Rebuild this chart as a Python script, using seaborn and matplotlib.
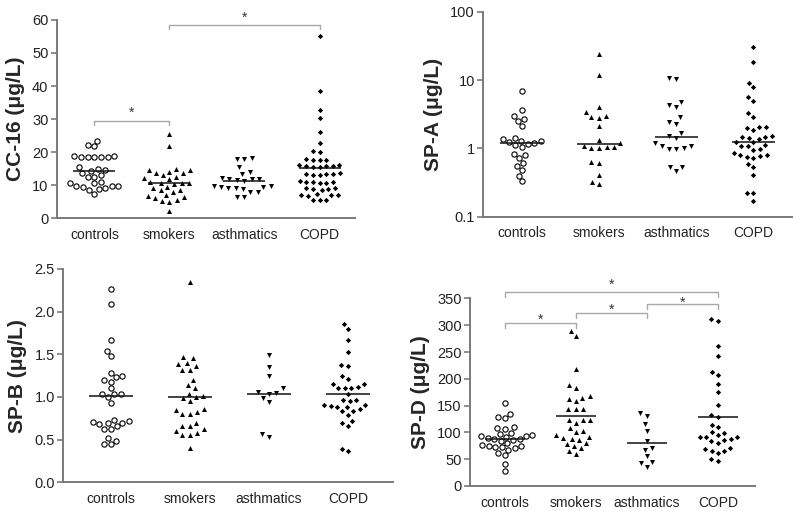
import numpy as np
import pandas as pd
import matplotlib
matplotlib.use("Agg")
import matplotlib.pyplot as plt
import seaborn as sns

# ---------------- data ----------------
groups = ["controls", "smokers", "asthmatics", "COPD"]

cc16_controls = [23.5, 22.2, 21.7, 18.9, 18.6, 18.5, 18.5, 18.5, 18.6, 18.9, 15.4, 14.9, 14.6,
                 14.3, 13.8, 13.2, 12.6, 12.6, 10.9, 10.6, 10.6, 9.8, 9.8, 9.6, 9.4, 8.9, 9.0, 8.5, 7.4]
cc16_smokers = [25.5, 21.9, 14.8, 14.6, 14.5, 14.0, 13.6, 13.6, 13.0, 12.4, 12.1, 11.8, 11.0, 10.8,
                10.8, 10.6, 10.2, 9.4, 9.0, 8.6, 8.4, 8.0, 7.0, 6.8, 6.4, 6.0, 5.6, 5.2, 5.0, 2.3]
cc16_asthmatics = [18.0, 18.1, 17.9, 15.4, 13.9, 13.5, 12.1, 12.0, 11.9, 11.6, 11.4, 11.8, 9.6, 9.3,
                   9.0, 8.9, 9.2, 9.4, 9.6, 7.9, 7.8, 6.5, 6.3]
cc16_copd = [55.0, 38.5, 32.7, 30.2, 26.1, 22.8, 20.3, 19.9, 17.8, 17.6, 17.7, 17.5, 16.2, 15.9,
             15.7, 15.5, 15.8, 16.0, 15.6, 13.6, 13.2, 13.4, 13.0, 13.5, 13.3, 11.2, 11.0, 10.8,
             10.6, 11.1, 10.9, 9.0, 8.7, 8.9, 9.2, 8.6, 7.2, 6.9, 7.0, 7.1, 6.8, 5.6, 5.4, 5.5]

spa_controls = [6.8, 3.7, 3.0, 2.7, 2.5, 2.1, 1.40, 1.35, 1.30, 1.28, 1.22, 1.20, 1.15, 1.12, 1.05,
                0.82, 0.80, 0.73, 0.61, 0.55, 0.48, 0.40, 0.33]
spa_smokers = [23.9, 11.9, 4.1, 3.35, 3.0, 2.85, 2.75, 2.15, 1.33, 1.21, 1.10, 1.05, 1.03, 1.02,
               1.00, 0.64, 0.62, 0.41, 0.32, 0.30]
spa_asthmatics = [10.6, 10.4, 4.8, 4.3, 4.0, 2.85, 2.45, 2.3, 1.70, 1.52, 1.41, 1.18, 1.10, 1.10,
                  1.00, 0.97, 0.97, 0.54, 0.54, 0.46]
spa_copd = [30.8, 18.6, 9.2, 7.85, 5.7, 5.0, 3.27, 2.85, 2.08, 2.04, 1.97, 1.86, 1.50, 1.45, 1.45,
            1.42, 1.38, 1.25, 1.22, 1.13, 1.08, 1.08, 0.98, 0.95, 0.85, 0.80, 0.80, 0.77, 0.75,
            0.73, 0.60, 0.54, 0.41, 0.22, 0.22, 0.167]

spb_controls = [2.26, 2.09, 1.67, 1.54, 1.48, 1.28, 1.24, 1.23, 1.20, 1.18, 1.10, 1.04, 1.03, 1.03,
                1.00, 0.93, 0.73, 0.72, 0.71, 0.70, 0.70, 0.68, 0.66, 0.63, 0.63, 0.52, 0.49, 0.45, 0.45]
spb_smokers = [2.35, 1.47, 1.45, 1.40, 1.39, 1.36, 1.32, 1.32, 1.20, 1.14, 1.10, 1.04, 1.01, 1.00,
               0.99, 0.95, 0.86, 0.85, 0.82, 0.80, 0.80, 0.70, 0.66, 0.66, 0.62, 0.60, 0.58, 0.56,
               0.56, 0.40]
spb_asthmatics = [1.49, 1.35, 1.25, 1.10, 1.06, 1.05, 1.04, 0.99, 0.945, 0.566, 0.535]
spb_copd = [1.855, 1.80, 1.67, 1.53, 1.37, 1.36, 1.25, 1.21, 1.15, 1.15, 1.12, 1.10, 1.10, 1.10,
            1.035, 0.965, 0.96, 0.95, 0.91, 0.90, 0.89, 0.88, 0.88, 0.86, 0.84, 0.83, 0.79, 0.72,
            0.69, 0.66, 0.39, 0.37]

spd_controls = [154, 134, 128, 126, 110, 108, 106, 99, 97, 95, 94, 93, 92, 90, 88, 87, 86, 84, 80,
                77, 75, 74, 73, 72, 70, 68, 62, 58, 41, 27]
spd_smokers = [290, 280, 218, 188, 183, 167, 165, 162, 158, 143, 143, 143, 124, 124, 123, 118, 108,
               103, 100, 95, 92, 90, 88, 85, 80, 78, 75, 70, 65, 60]
spd_asthmatics = [136, 131, 116, 103, 84, 70, 68, 55, 44, 43, 35]
spd_copd = [311, 308, 262, 242, 213, 207, 190, 176, 151, 132, 129, 114, 110, 101, 99, 95, 92, 91,
            91, 87, 86, 83, 81, 71, 69, 66, 66, 62, 50, 47]

ylabels = ["CC-16 (\u03bcg/L)", "SP-A (\u03bcg/L)", "SP-B (\u03bcg/L)", "SP-D (\u03bcg/L)"]

# ---------------- style ----------------
sns.set_theme(style="white")
plt.rcParams["font.family"] = ["Liberation Sans", "DejaVu Sans"]
AX_COL = "#7a7a7a"
BR_COL = "#a8a8a8"


def make_df(lists):
    rows = []
    for g, vals in zip(groups, lists):
        for v in vals:
            rows.append({"group": g, "value": v})
    return pd.DataFrame(rows)


marker_styles = {
    "controls": dict(marker="o", color="white", edgecolor="black", linewidth=0.8, size=3.8),
    "smokers": dict(marker="^", color="black", edgecolor=(1, 1, 1, 0), linewidth=1.6, size=3.6),
    "asthmatics": dict(marker="v", color="black", edgecolor=(1, 1, 1, 0), linewidth=1.6, size=3.6),
    "COPD": dict(marker="D", color="black", edgecolor=(1, 1, 1, 0), linewidth=1.9, size=2.7),
}


def panel(fig, rect, lists, ylabel, ylim, yticks, yticklabels, xlim, stat="mean", log=False):
    ax = fig.add_axes(rect)
    df = make_df(lists)
    if log:
        ax.set_yscale("log")
    for g in groups:
        sub = df[df["group"] == g]
        sns.swarmplot(data=sub, x="group", y="value", order=groups, ax=ax,
                      warn_thresh=1.0, zorder=3, **marker_styles[g])
    for i, g in enumerate(groups):
        vals = np.asarray(df.loc[df["group"] == g, "value"])
        c = np.median(vals) if stat == "median" else np.mean(vals)
        ax.hlines(c, i - 0.28, i + 0.28, color="#111111", lw=1.1, zorder=4)
    ax.set_ylim(*ylim)
    ax.set_xlim(*xlim)
    ax.set_yticks(yticks)
    ax.set_yticklabels(yticklabels)
    ax.minorticks_off()
    ax.set_xlabel("")
    ax.set_ylabel(ylabel, fontsize=15, fontweight="bold", labelpad=5)
    for s in ["top", "right"]:
        ax.spines[s].set_visible(False)
    for s in ["left", "bottom"]:
        ax.spines[s].set_color(AX_COL)
        ax.spines[s].set_linewidth(1.4)
    ax.tick_params(axis="y", length=4, width=1.2, color=AX_COL, labelsize=10.5, pad=2,
                   labelcolor="#222222", left=True)
    ax.tick_params(axis="x", length=0, labelsize=10, pad=7, labelcolor="#222222")
    return ax


def bracket(ax, x1, x2, y, drop, star_y):
    ax.plot([x1, x1, x2, x2], [y - drop, y, y, y - drop], color=BR_COL, lw=1.0,
            clip_on=False, zorder=2)
    ax.text((x1 + x2) / 2, star_y, "*", ha="center", va="center", fontsize=10,
            color="#333333", clip_on=False)


fig = plt.figure(figsize=(8, 5.11), dpi=100)

ax1 = panel(fig, [0.071, 0.573, 0.3725, 0.388],
            [cc16_controls, cc16_smokers, cc16_asthmatics, cc16_copd], ylabels[0],
            (0, 60), [0, 10, 20, 30, 40, 50, 60], ["0", "10", "20", "30", "40", "50", "60"],
            (-0.5, 3.47))
bracket(ax1, 0, 1, 29.5, 1.4, 31.8)
bracket(ax1, 1, 3, 58.5, 1.3, 60.8)

ax2 = panel(fig, [0.604, 0.576, 0.386, 0.401],
            [spa_controls, spa_smokers, spa_asthmatics, spa_copd], ylabels[1],
            (0.1, 100), [0.1, 1, 10, 100], ["0.1", "1", "10", "100"],
            (-0.5, 3.5), stat="median", log=True)

ax3 = panel(fig, [0.079, 0.056, 0.4125, 0.418],
            [spb_controls, spb_smokers, spb_asthmatics, spb_copd], ylabels[2],
            (0, 2.5), [0, 0.5, 1.0, 1.5, 2.0, 2.5], ["0.0", "0.5", "1.0", "1.5", "2.0", "2.5"],
            (-0.6, 3.57))

ax4 = panel(fig, [0.5875, 0.049, 0.356, 0.367],
            [spd_controls, spd_smokers, spd_asthmatics, spd_copd], ylabels[3],
            (0, 350), [0, 50, 100, 150, 200, 250, 300, 350],
            ["0", "50", "100", "150", "200", "250", "300", "350"],
            (-0.49, 3.52))
bracket(ax4, 0, 3, 362, 9, 376)
bracket(ax4, 0, 1, 304.5, 9, 311)
bracket(ax4, 1, 2, 323, 9, 328)
bracket(ax4, 2, 3, 339, 8, 341)

fig.savefig("out.png", dpi=100)
